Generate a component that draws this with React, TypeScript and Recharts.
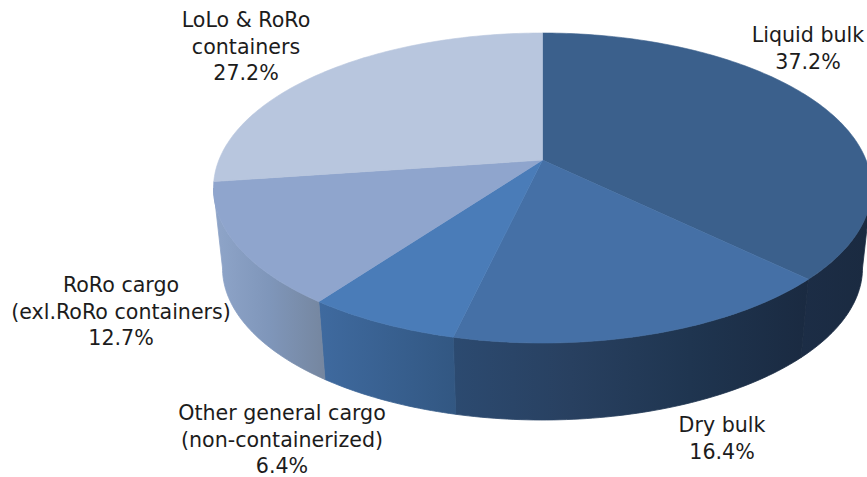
import { Pie, PieChart } from "recharts"

const labelLines = [
  ["Liquid bulk"],
  ["Dry bulk"],
  ["Other general cargo", "(non-containerized)"],
  ["RoRo cargo", "(exl.RoRo containers)"],
  ["LoLo & RoRo", "containers"],
]
const shares = [37.2, 16.4, 6.4, 12.7, 27.2]
const topColors = ["#3b608c", "#4570a6", "#4a7cb8", "#8fa5cd", "#b8c6de"]
const wallStops = [
  ["#1c2d46", "#1a2a40"],
  ["#2c4a70", "#284060", "#1f3550", "#1a2a41"],
  ["#3f6a9f", "#325782"],
  ["#8fa5c9", "#7f96ba", "#75869f"],
  ["#8fa5c9", "#8fa5c9"],
]

const slices = labelLines.map((lines, i) => ({
  name: lines.join(" "),
  share: shares[i],
  fill: topColors[i],
  wall: `url(#wall-${i})`,
}))

// Label centres and first baselines
const labelX = [808, 722, 282, 121, 246]
const labelY = [42, 432, 420, 292, 27]
const LINE_HEIGHT = 26.5

const WIDTH = 867
const HEIGHT = 477
const CX = 542.5
const CY = 188
const RY = 155
const RX_RATIO = 329 / 155
// rim of the lower disc, a little smaller because it sits further away
const LOWER_CY = 268
const LOWER_RX = 320
const LOWER_RY = 152
// how far the pie centre sits above the centre of the ellipse, as a share of RY
const TILT = 0.18
const HIDDEN_FROM = (Math.acos(-TILT) * 180) / Math.PI

function project(deg: number, cx: number, cy: number, rx: number, ry: number) {
  const a = (deg * Math.PI) / 180
  const u = Math.sin(a)
  const v = -Math.cos(a)
  const d = 1 - TILT * v
  return [cx + (rx * u * Math.sqrt(1 - TILT * TILT)) / d, cy + (ry * (v - TILT)) / d]
}

function arc(from: number, to: number, cx: number, cy: number, rx: number, ry: number) {
  const pts: number[][] = []
  const steps = Math.max(2, Math.ceil(Math.abs(to - from)))
  for (let i = 0; i <= steps; i++) {
    pts.push(project(from + ((to - from) * i) / steps, cx, cy, rx, ry))
  }
  return pts
}

const toPath = (pts: number[][]) =>
  "M" + pts.map((p) => `${p[0].toFixed(2)} ${p[1].toFixed(2)}`).join("L") + "Z"

function TopSlice(props: any) {
  const { cx, cy, outerRadius, startAngle, endAngle, fill } = props
  const rx = outerRadius * RX_RATIO
  const pts = arc(90 - startAngle, 90 - endAngle, cx, cy, rx, outerRadius)
  const apex = [cx, cy - TILT * outerRadius]
  return <path d={toPath([apex, ...pts])} fill={fill} stroke={fill} strokeWidth={0.6} />
}

function WallSlice(props: any) {
  const { cx, cy, outerRadius, startAngle, endAngle, wall } = props
  const from = Math.max(90 - startAngle, HIDDEN_FROM)
  const to = Math.min(90 - endAngle, 360 - HIDDEN_FROM)
  if (to <= from) return null
  const rx = outerRadius * RX_RATIO
  const upper = arc(from, to, cx, cy, rx, outerRadius)
  const lower = arc(to, from, cx, LOWER_CY, LOWER_RX, LOWER_RY)
  return <path d={toPath([...upper, ...lower])} fill={wall} stroke={wall} strokeWidth={0.8} />
}

function SliceLabel(props: any) {
  const { index } = props
  const lines = [...labelLines[index], `${shares[index].toFixed(1)}%`]
  return (
    <text
      x={labelX[index]}
      y={labelY[index]}
      textAnchor="middle"
      fontFamily="'DejaVu Sans', sans-serif"
      fontSize={20.6}
      fill="#1c1c1c"
    >
      {lines.map((line, i) => (
        <tspan key={i} x={labelX[index]} y={labelY[index] + i * LINE_HEIGHT}>
          {line}
        </tspan>
      ))}
    </text>
  )
}

export default function App() {
  return (
    <div style={{ position: "fixed", left: 0, top: 0, width: WIDTH, height: HEIGHT, overflow: "hidden", background: "#fff" }}>
      <PieChart width={WIDTH} height={HEIGHT} margin={{ top: 0, right: 0, bottom: 0, left: 0 }}>
        <defs>
          {wallStops.map((stops, i) => (
            <linearGradient key={i} id={`wall-${i}`} x1="0" y1="0" x2="1" y2="0">
              {stops.map((color, j) => (
                <stop key={j} offset={j / (stops.length - 1)} stopColor={color} />
              ))}
            </linearGradient>
          ))}
        </defs>
        <Pie
          data={slices}
          dataKey="share"
          cx={CX}
          cy={CY}
          outerRadius={RY}
          startAngle={90}
          endAngle={-270}
          stroke="none"
          shape={WallSlice}
          isAnimationActive={false}
        />
        <Pie
          data={slices}
          dataKey="share"
          cx={CX}
          cy={CY}
          outerRadius={RY}
          startAngle={90}
          endAngle={-270}
          stroke="none"
          shape={TopSlice}
          label={SliceLabel}
          labelLine={false}
          isAnimationActive={false}
        />
      </PieChart>
    </div>
  )
}
